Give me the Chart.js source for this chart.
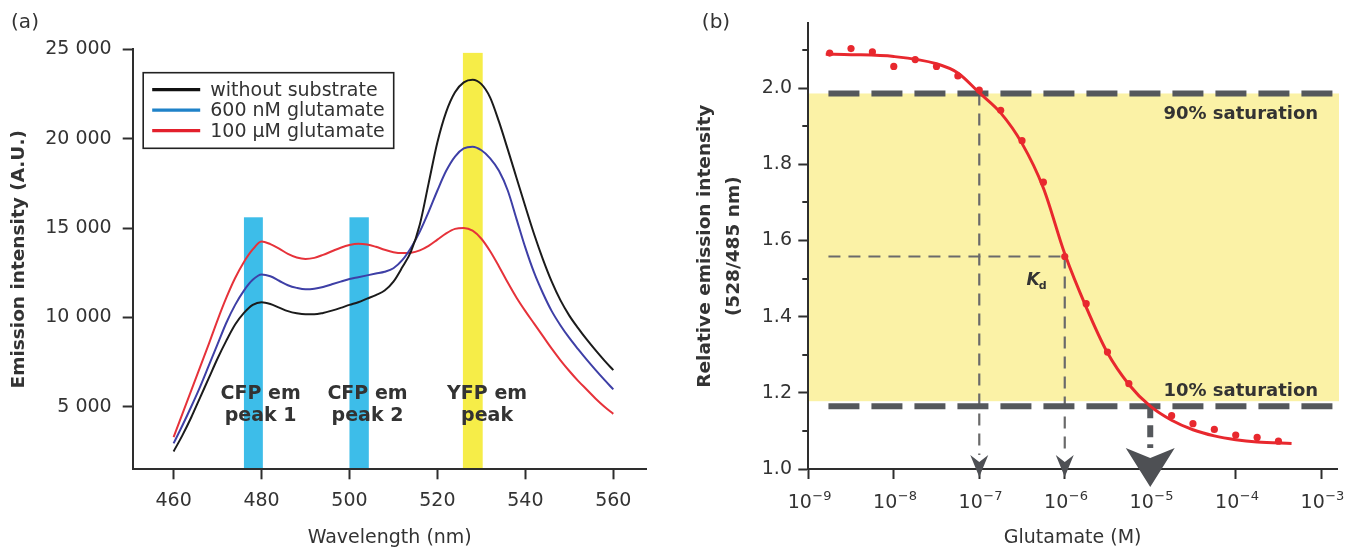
<!DOCTYPE html>
<html>
<head>
<meta charset="utf-8">
<title>Glutamate sensor: emission spectra and titration</title>
<script src="https://cdn.jsdelivr.net/npm/chart.js@4.4.1/dist/chart.umd.min.js"></script>
<style>
  html, body { margin: 0; padding: 0; background: #ffffff; }
  #wrap { position: relative; width: 1358px; height: 553px; overflow: hidden; }
  #wrap canvas { position: absolute; top: 0; }
  #spectra { left: 0; }
  #binding { left: 680px; }
</style>
</head>
<body>
<div id="wrap">
  <canvas id="spectra" width="680" height="553"></canvas>
  <canvas id="binding" width="678" height="553"></canvas>
</div>
<script>
// ---------- (a) emission spectra ----------
const wavelengths = [460, 462, 464, 466, 468, 470, 472, 474, 476, 478, 480, 482, 484, 486, 488, 490,
  492, 494, 496, 498, 500, 502, 504, 506, 508, 510, 512, 514, 516, 518, 520, 522, 524, 526, 528, 530,
  532, 534, 536, 538, 540, 542, 544, 546, 548, 550, 552, 554, 556, 558, 560];
const withoutSubstrate = [2500, 3400, 4400, 5500, 6600, 7700, 8700, 9600, 10250, 10700, 10850, 10750,
  10550, 10350, 10230, 10170, 10170, 10250, 10380, 10530, 10700, 10850, 11050, 11250, 11500, 12000,
  12800, 13700, 15200, 17500, 19800, 21500, 22600, 23150, 23300, 23050, 22300, 20950, 19400, 17800,
  16200, 14650, 13250, 12000, 10950, 10100, 9400, 8750, 8150, 7580, 7050];
const glutamate600nM = [2950, 3950, 5000, 6100, 7300, 8500, 9700, 10700, 11500, 12100, 12400, 12300,
  12050, 11800, 11650, 11570, 11600, 11700, 11850, 12000, 12150, 12250, 12350, 12450, 12550, 12750,
  13200, 13900, 14800, 15900, 17100, 18200, 19000, 19450, 19550, 19350, 18900, 18200, 17100, 15500,
  13900, 12500, 11350, 10350, 9550, 8850, 8220, 7620, 7050, 6500, 5970];
const glutamate100uM = [3300, 4600, 5900, 7200, 8500, 9850, 11100, 12200, 13100, 13800, 14250, 14100,
  13850, 13550, 13350, 13270, 13330, 13500, 13700, 13900, 14050, 14120, 14080, 13950, 13780, 13650,
  13600, 13620, 13750, 14000, 14350, 14700, 14950, 15000, 14850, 14400, 13700, 12850, 11950, 11100,
  10350, 9650, 8950, 8250, 7600, 7000, 6450, 5950, 5450, 5000, 4600];
const spectraLabels = ['without substrate', '600 nM glutamate', '100 \u00B5M glutamate'];
const wavelengthTicks = [460, 480, 500, 520, 540, 560];
const intensityTicks = [5000, 10000, 15000, 20000, 25000];

// detection windows (nm) and their heights (A.U.)
const windowNames = [['CFP em', 'peak 1'], ['CFP em', 'peak 2'], ['YFP em', 'peak']];
const windowFrom = [476, 500, 525.8];
const windowTo = [480.3, 504.4, 530.3];
const windowTop = [15600, 15600, 24800];

// ---------- (b) titration ----------
const glutamateM = [1.78e-9, 3.16e-9, 5.62e-9, 1e-8, 1.78e-8, 3.16e-8, 5.62e-8, 1e-7, 1.78e-7,
  3.16e-7, 5.62e-7, 1e-6, 1.78e-6, 3.16e-6, 5.62e-6, 1.78e-5, 3.16e-5, 5.62e-5, 1e-4, 1.78e-4, 3.16e-4];
const emissionRatio = [2.092, 2.104, 2.095, 2.057, 2.075, 2.057, 2.032, 1.995, 1.942,
  1.862, 1.753, 1.558, 1.434, 1.307, 1.224, 1.140, 1.119, 1.104, 1.089, 1.083, 1.073];
const fitM = [1.6e-9, 3.16e-9, 1e-8, 3.16e-8, 5.62e-8, 1e-7, 1.78e-7, 3.16e-7, 5.62e-7, 1e-6,
  1.78e-6, 3.16e-6, 5.62e-6, 1e-5, 1.78e-5, 3.16e-5, 5.62e-5, 1e-4, 1.78e-4, 4.5e-4];
const fitRatio = [2.089, 2.088, 2.083, 2.064, 2.040, 1.988, 1.935, 1.855, 1.738, 1.565,
  1.425, 1.305, 1.222, 1.165, 1.128, 1.103, 1.087, 1.077, 1.071, 1.067];
const concTickExponents = [-9, -8, -7, -6, -5, -4, -3];
const ratioTicks = [1.0, 1.2, 1.4, 1.6, 1.8, 2.0];
const ratioMinorTicks = [1.1, 1.3, 1.5, 1.7, 1.9, 2.1];

const saturation90 = 1.986;   // ratio at 90% saturation
const saturation10 = 1.165;   // ratio at 10% saturation
const kdRatio = 1.558;        // half-saturation ratio
const conc90 = 1e-7;
const kdConc = 1e-6;
const conc10 = 1e-5;

// ---------- shared style ----------
const FONT = "'DejaVu Sans', sans-serif";
const INK = '#333333';
const AXIS = '#2e2e2e';
Chart.defaults.font.family = FONT;
Chart.defaults.color = INK;

function spaced(v) {
  return String(v).replace(/\B(?=(\d{3})+(?!\d))/g, ' ');
}

function axisStyle(extra) {
  return Object.assign({
    grid: { display: true, drawOnChartArea: false, drawTicks: true, tickLength: 10, tickWidth: 2,
            color: AXIS, tickColor: AXIS },
    border: { display: true, color: AXIS, width: 2 },
  }, extra);
}

function panelLetter(text, x, y) {
  return {
    id: 'panelLetter',
    afterDraw(chart) {
      const ctx = chart.ctx;
      ctx.save();
      ctx.font = '20px ' + FONT;
      ctx.fillStyle = INK;
      ctx.textAlign = 'center';
      ctx.textBaseline = 'middle';
      ctx.fillText(text, x, y);
      ctx.restore();
    }
  };
}

// ---------- (a) chart ----------
const spectraColors = ['#1b1b1b', '#3e3fa6', '#e6323a'];
const spectraKeyColors = ['#111111', '#1f82c8', '#e3202c'];
const windowColors = ['#3dbde9', '#3dbde9', '#f6ed48'];
const windowLabelAt = [479.8, 504.1, 531.3];

const windowsPlugin = {
  id: 'windows',
  beforeDraw(chart) {
    const { ctx, chartArea, scales: { x, y } } = chart;
    ctx.save();
    windowFrom.forEach((from, i) => {
      const x0 = x.getPixelForValue(from);
      const x1 = x.getPixelForValue(windowTo[i]);
      const yt = y.getPixelForValue(windowTop[i]);
      ctx.fillStyle = windowColors[i];
      ctx.fillRect(x0, yt, x1 - x0, chartArea.bottom - yt);
    });
    ctx.restore();
  },
  afterDatasetsDraw(chart) {
    const { ctx, scales: { x, y } } = chart;
    ctx.save();
    ctx.font = 'bold 19px ' + FONT;
    ctx.fillStyle = INK;
    ctx.textAlign = 'center';
    ctx.textBaseline = 'middle';
    const y0 = y.getPixelForValue(5700);
    windowNames.forEach((lines, i) => {
      const cx = x.getPixelForValue(windowLabelAt[i]);
      lines.forEach((t, j) => ctx.fillText(t, cx, y0 + j * 22));
    });
    ctx.restore();
  }
};

const keyPlugin = {
  id: 'key',
  afterDraw(chart) {
    const { ctx, chartArea } = chart;
    const left = chartArea.left + 10.5, top = 72.7, w = 250.5, h = 75.6;
    ctx.save();
    ctx.strokeStyle = '#222222';
    ctx.lineWidth = 1.6;
    ctx.strokeRect(left, top, w, h);
    ctx.font = '19px ' + FONT;
    ctx.textBaseline = 'middle';
    ctx.textAlign = 'left';
    spectraLabels.forEach((label, i) => {
      const yy = top + 17 + i * 20.5;
      ctx.strokeStyle = spectraKeyColors[i];
      ctx.lineWidth = 3.2;
      ctx.beginPath();
      ctx.moveTo(left + 9, yy);
      ctx.lineTo(left + 57, yy);
      ctx.stroke();
      ctx.fillStyle = INK;
      ctx.fillText(label, left + 67, yy + 1);
    });
    ctx.restore();
  }
};

const spectraSeries = [withoutSubstrate, glutamate600nM, glutamate100uM];
new Chart(document.getElementById('spectra'), {
  type: 'line',
  data: {
    datasets: spectraSeries.map((vals, i) => ({
      label: spectraLabels[i],
      data: wavelengths.map((w, k) => ({ x: w, y: vals[k] })),
      borderColor: spectraColors[i],
      borderWidth: 2,
      pointRadius: 0,
      fill: false,
      cubicInterpolationMode: 'monotone',
    }))
  },
  options: {
    responsive: false,
    animation: false,
    devicePixelRatio: 1,
    layout: { autoPadding: false, padding: { left: 0, top: 49.3, right: 33.3, bottom: 0 } },
    plugins: { legend: { display: false }, tooltip: { enabled: false } },
    scales: {
      x: axisStyle({
        type: 'linear', min: 450.7, max: 567.6,
        afterBuildTicks: s => { s.ticks = wavelengthTicks.map(v => ({ value: v })); },
        afterFit: s => { s.height = 83.7; },
        ticks: { font: { size: 19 }, color: INK, padding: 10, maxRotation: 0, autoSkip: false },
        title: { display: true, text: 'Wavelength (nm)', font: { size: 19 }, color: INK,
                 padding: { top: 0, bottom: 4 } },
      }),
      y: axisStyle({
        type: 'linear', min: 1500, max: 25000,
        afterBuildTicks: s => { s.ticks = intensityTicks.map(v => ({ value: v })); },
        afterFit: s => { s.width = 132.7; },
        ticks: { font: { size: 19 }, color: INK, padding: 11, callback: v => spaced(v) },
        title: { display: true, text: 'Emission intensity (A.U.)', font: { size: 18.5, weight: 'bold' },
                 color: INK, padding: { top: 8.4, bottom: 0 } },
      }),
    }
  },
  plugins: [windowsPlugin, keyPlugin, panelLetter('(a)', 25, 23)]
});

// ---------- (b) chart ----------
const RED = '#e8282e';
const GUIDE_DARK = '#55585c';
const GUIDE_THIN = '#6a6a6a';
const lineStart = 1.72e-9;

const guides = [
  { pts: [[lineStart, saturation90], [1.38e-3, saturation90]], width: 6, dash: [31, 12], color: GUIDE_DARK },
  { pts: [[lineStart, saturation10], [1.585e-3, saturation10]], width: 6, dash: [31, 12], color: GUIDE_DARK },
  { pts: [[conc10, saturation10], [conc10, 1.055]], width: 6, dash: [12, 7], color: GUIDE_DARK },
  { pts: [[conc90, saturation90], [conc90, 1.037]], width: 2.2, dash: [12, 8], color: GUIDE_THIN },
  { pts: [[kdConc, kdRatio], [kdConc, 1.037]], width: 2.2, dash: [12, 8], color: GUIDE_THIN },
  { pts: [[lineStart, kdRatio], [kdConc, kdRatio]], width: 2.2, dash: [12, 8], color: GUIDE_THIN },
];

const arrowMarks = [
  { conc: conc90, w: 18, back: 14, notch: 7, tip: 8 },
  { conc: kdConc, w: 18, back: 14, notch: 7, tip: 8 },
  { conc: conc10, w: 49, back: 21, notch: 11, tip: 18 },
];

const bindingPlugin = {
  id: 'binding',
  beforeDraw(chart) {
    const { ctx, chartArea, scales: { y } } = chart;
    const top = y.getPixelForValue(saturation90);
    const bottom = y.getPixelForValue(1.178);
    ctx.save();
    ctx.fillStyle = '#fbf2a6';
    ctx.fillRect(chartArea.left, top, chartArea.right + 2 - chartArea.left, bottom - top);
    ctx.restore();
  },
  afterDatasetsDraw(chart) {
    const { ctx, scales: { x, y } } = chart;
    ctx.save();
    // arrowheads pointing at the axis
    const base = y.getPixelForValue(1.0);
    ctx.fillStyle = '#4e5054';
    arrowMarks.forEach(a => {
      const cx = x.getPixelForValue(a.conc);
      ctx.beginPath();
      ctx.moveTo(cx, base + a.tip);
      ctx.lineTo(cx - a.w / 2, base - a.back);
      ctx.lineTo(cx, base - a.notch);
      ctx.lineTo(cx + a.w / 2, base - a.back);
      ctx.closePath();
      ctx.fill();
    });
    // saturation labels
    ctx.fillStyle = INK;
    ctx.font = 'bold 18px ' + FONT;
    ctx.textAlign = 'right';
    ctx.textBaseline = 'middle';
    const rx = x.getPixelForValue(9.2e-4);
    ctx.fillText('90% saturation', rx, y.getPixelForValue(1.930));
    ctx.fillText('10% saturation', rx, y.getPixelForValue(1.204));
    // K_d label
    const kx = x.getPixelForValue(3.58e-7);
    const ky = y.getPixelForValue(1.482);
    ctx.textAlign = 'left';
    ctx.textBaseline = 'alphabetic';
    ctx.font = 'italic bold 17px ' + FONT;
    ctx.fillText('K', kx, ky);
    const kw = ctx.measureText('K').width;
    ctx.font = 'bold 11px ' + FONT;
    ctx.fillText('d', kx + kw - 1, ky + 4);
    ctx.restore();
  },
  afterDraw(chart) {
    const { ctx, chartArea, scales: { x, y } } = chart;
    ctx.save();
    // minor ticks on the ratio axis
    ctx.strokeStyle = AXIS;
    ctx.lineWidth = 2;
    ratioMinorTicks.forEach(v => {
      const py = Math.round(y.getPixelForValue(v));
      ctx.beginPath();
      ctx.moveTo(chartArea.left - 6, py);
      ctx.lineTo(chartArea.left, py);
      ctx.stroke();
    });
    // power-of-ten labels on the concentration axis
    ctx.fillStyle = INK;
    ctx.textAlign = 'left';
    ctx.textBaseline = 'alphabetic';
    const baseY = chartArea.bottom + 39;
    concTickExponents.forEach(e => {
      const px = x.getPixelForValue(Math.pow(10, e));
      const expText = '\u2212' + String(-e);
      ctx.font = '19px ' + FONT;
      const w1 = ctx.measureText('10').width;
      ctx.font = '13px ' + FONT;
      const w2 = ctx.measureText(expText).width;
      const start = px - (w1 + w2) / 2 + 1;
      ctx.font = '19px ' + FONT;
      ctx.fillText('10', start, baseY);
      ctx.font = '13px ' + FONT;
      ctx.fillText(expText, start + w1 + 0.5, baseY - 8);
    });
    ctx.restore();
  }
};

new Chart(document.getElementById('binding'), {
  type: 'scatter',
  data: {
    datasets: [
      {
        label: 'measured',
        data: glutamateM.map((c, i) => ({ x: c, y: emissionRatio[i] })),
        backgroundColor: RED, borderWidth: 0, pointRadius: 3.6, showLine: false, order: 1,
      },
      {
        label: 'fit',
        data: fitM.map((c, i) => ({ x: c, y: fitRatio[i] })),
        borderColor: RED, borderWidth: 3, pointRadius: 0, showLine: true,
        cubicInterpolationMode: 'monotone', order: 2,
      },
      ...guides.map((g, i) => ({
        label: 'guide ' + i,
        data: g.pts.map(p => ({ x: p[0], y: p[1] })),
        borderColor: g.color, borderWidth: g.width, borderDash: g.dash, borderCapStyle: 'butt',
        pointRadius: 0, showLine: true, order: 3,
      })),
    ]
  },
  options: {
    responsive: false,
    animation: false,
    devicePixelRatio: 1,
    layout: { autoPadding: false, padding: { left: 0, top: 23.4, right: 21, bottom: 0 } },
    plugins: { legend: { display: false }, tooltip: { enabled: false } },
    scales: {
      x: axisStyle({
        type: 'logarithmic', min: 1e-9, max: 1.53e-3,
        afterBuildTicks: s => { s.ticks = concTickExponents.map(e => ({ value: Math.pow(10, e) })); },
        afterFit: s => { s.height = 84; },
        ticks: { display: false },
        title: { display: true, text: 'Glutamate (M)', font: { size: 19 }, color: INK,
                 padding: { top: 0, bottom: 4 } },
      }),
      y: axisStyle({
        type: 'linear', min: 1.0, max: 2.17,
        afterBuildTicks: s => { s.ticks = ratioTicks.map(v => ({ value: v })); },
        afterFit: s => { s.width = 128.3; },
        ticks: { font: { size: 19 }, color: INK, padding: 6.3, callback: v => v.toFixed(1) },
        title: { display: true, text: ['Relative emission intensity', '(528/485 nm)'],
                 font: { size: 18.5, weight: 'bold', lineHeight: 1.55 }, color: INK,
                 padding: { top: 10.7, bottom: 0 } },
      }),
    }
  },
  plugins: [bindingPlugin, panelLetter('(b)', 36, 23)]
});
</script>
</body>
</html>
